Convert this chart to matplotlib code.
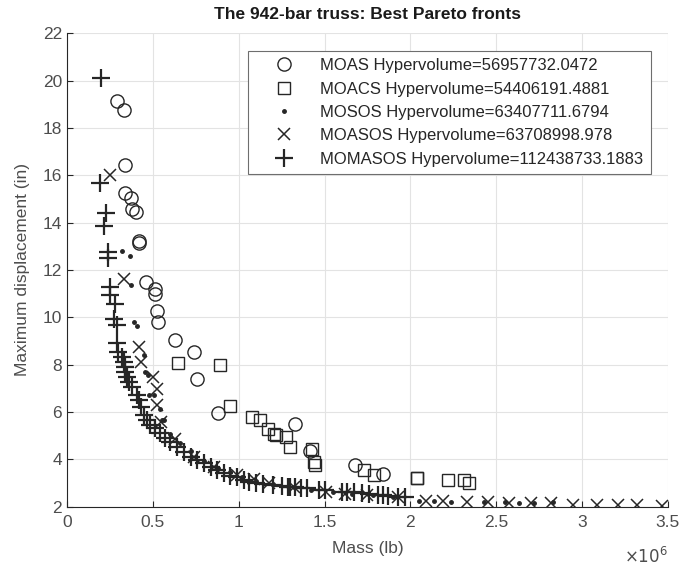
import matplotlib.pyplot as plt

plt.rcParams['font.family'] = ['Liberation Sans', 'DejaVu Sans']

# Pareto fronts (mass in 1e6 lb, max displacement in inches)
moas_mass = [0.29, 0.33, 0.34, 0.34, 0.37, 0.38, 0.40, 0.42, 0.42, 0.46, 0.515, 0.515,
             0.525, 0.53, 0.627, 0.74, 0.76, 0.878, 1.33, 1.418, 1.68, 1.84]
moas_disp = [19.14, 18.76, 16.44, 15.26, 15.05, 14.58, 14.46, 13.23, 13.12, 11.5, 11.18, 10.97,
             10.26, 9.81, 9.04, 8.54, 7.39, 5.94, 5.48, 4.37, 3.75, 3.37]

moacs_mass = [0.645, 0.894, 0.952, 1.08, 1.127, 1.17, 1.205, 1.215, 1.273, 1.298,
              1.428, 1.438, 1.444, 1.73, 1.79, 2.04, 2.04, 2.22, 2.31, 2.34]
moacs_disp = [8.09, 8.0, 6.25, 5.77, 5.66, 5.3, 5.09, 5.02, 4.96, 4.51,
              4.42, 3.9, 3.76, 3.56, 3.32, 3.22, 3.2, 3.13, 3.13, 2.99]

mosos_mass = [0.32, 0.365, 0.37, 0.39, 0.41, 0.447, 0.452, 0.47, 0.476, 0.505, 0.544, 0.553,
              0.567, 0.6, 0.66, 0.72, 0.8, 0.88, 0.95, 1.02, 1.1, 1.2, 1.32, 1.42, 1.55,
              1.66, 1.78, 1.9, 2.05, 2.14, 2.235, 2.43, 2.55, 2.63, 2.72, 2.83]
mosos_disp = [12.8, 12.6, 11.36, 9.81, 9.63, 8.4, 7.7, 7.56, 6.71, 6.71, 6.14, 5.66,
              5.68, 5.05, 4.7, 4.35, 3.95, 3.65, 3.45, 3.25, 3.1, 2.95, 2.82, 2.72, 2.62,
              2.55, 2.48, 2.42, 2.25, 2.22, 2.2, 2.2, 2.19, 2.16, 2.16, 2.2]

moasos_mass = [0.25, 0.33, 0.42, 0.43, 0.50, 0.525, 0.525, 0.55, 0.63, 0.74, 0.855, 0.99,
               1.09, 1.175, 1.32, 1.506, 1.62, 1.75, 1.93, 2.09, 2.19, 2.33, 2.45, 2.575,
               2.70, 2.82, 2.945, 3.086, 3.21, 3.32, 3.465]
moasos_disp = [16.01, 11.64, 8.73, 8.12, 7.46, 6.96, 6.29, 5.58, 4.88, 4.1, 3.68, 3.33,
               3.15, 2.98, 2.85, 2.62, 2.55, 2.5, 2.4, 2.24, 2.22, 2.19, 2.18, 2.16,
               2.16, 2.16, 2.07, 2.07, 2.07, 2.07, 2.03]

momasos_mass = [0.198, 0.19, 0.227, 0.213, 0.239, 0.239, 0.252, 0.252, 0.28, 0.272, 0.29, 0.29,
                0.30, 0.32, 0.33, 0.34, 0.34, 0.35, 0.36, 0.38, 0.41, 0.42, 0.43,
                0.447, 0.466, 0.486, 0.515, 0.544, 0.573, 0.602, 0.641, 0.68, 0.72, 0.758,
                0.797, 0.836, 0.875, 0.913, 0.952, 0.99, 1.03, 1.06,
                1.1, 1.14, 1.2, 1.25, 1.29, 1.3, 1.33, 1.36, 1.4, 1.47, 1.5, 1.6, 1.63,
                1.67, 1.72, 1.76, 1.81, 1.84, 1.87, 1.93, 1.97]
momasos_disp = [20.1, 15.69, 14.39, 13.86, 12.77, 12.49, 11.29, 10.94, 10.56, 9.95, 9.67, 8.9,
                8.54, 8.33, 8.12, 7.91, 7.7, 7.49, 7.27, 7.06, 6.71, 6.5, 6.22,
                5.87, 5.66, 5.45, 5.31, 5.1, 4.89, 4.75, 4.54, 4.33, 4.12, 3.98,
                3.84, 3.69, 3.55, 3.41, 3.3, 3.24, 3.13, 3.06,
                3.0, 2.97, 2.92, 2.88, 2.85, 2.84, 2.82, 2.8, 2.77, 2.72, 2.7, 2.64, 2.62,
                2.6, 2.56, 2.54, 2.5, 2.48, 2.47, 2.43, 2.41]

labels = ['MOAS Hypervolume=56957732.0472',
          'MOACS Hypervolume=54406191.4881',
          'MOSOS Hypervolume=63407711.6794',
          'MOASOS Hypervolume=63708998.978',
          'MOMASOS Hypervolume=112438733.1883']

ink = '#262626'
grey = '#4d4d4d'

fig = plt.figure(figsize=(6.94, 5.69), dpi=100)
ax = fig.add_axes([0.0965, 0.1095, 0.866, 0.832])

ax.plot(moas_mass, moas_disp, 'o', ms=9.5, mfc='none', mec=ink, mew=1.0, label=labels[0])
ax.plot(moacs_mass, moacs_disp, 's', ms=8.5, mfc='none', mec=ink, mew=1.0, label=labels[1])
ax.plot(mosos_mass, mosos_disp, '.', ms=5, color=ink, label=labels[2])
ax.plot(moasos_mass, moasos_disp, 'x', ms=9, mec=ink, mew=1.1, label=labels[3])
ax.plot(momasos_mass, momasos_disp, '+', ms=13, mec=ink, mew=1.6, label=labels[4])

ax.set_xlim(0, 3.5)
ax.set_ylim(2, 22)
ax.set_xticks([0, 0.5, 1, 1.5, 2, 2.5, 3, 3.5])
ax.set_xticklabels(['0', '0.5', '1', '1.5', '2', '2.5', '3', '3.5'])
ax.set_yticks(range(2, 23, 2))

ax.grid(True, color='#e3e3e3', lw=0.8)
ax.set_axisbelow(True)
for side in ['top', 'right']:
    ax.spines[side].set_visible(False)
for side in ['left', 'bottom']:
    ax.spines[side].set_color(ink)
    ax.spines[side].set_linewidth(0.8)
ax.tick_params(direction='in', length=4, width=0.8, color=ink, labelcolor=grey, labelsize=12.5)
ax.tick_params(axis='x', pad=6)

ax.set_xlabel('Mass (lb)', fontsize=12.5, color=grey, labelpad=8)
ax.set_ylabel('Maximum displacement (in)', fontsize=12.5, color=grey, labelpad=9)
ax.set_title('The 942-bar truss: Best Pareto fronts', fontsize=12.5, fontweight='bold',
             color='#1a1a1a', pad=10)

# exponent of the mass axis
ax.text(1.0, -0.083, r'$\times10^{6}$', transform=ax.transAxes, ha='right', va='top',
        fontsize=12, color=grey)

leg = ax.legend(loc='upper left', bbox_to_anchor=(0.301, 0.963), borderaxespad=0,
                fontsize=12, fancybox=False, framealpha=1, edgecolor='#6e6e6e',
                handletextpad=0.5, labelspacing=0.5, borderpad=0.45, handlelength=3.4)
leg.get_frame().set_linewidth(0.8)
for t in leg.get_texts():
    t.set_color(ink)

fig.savefig('out.png', dpi=100)
